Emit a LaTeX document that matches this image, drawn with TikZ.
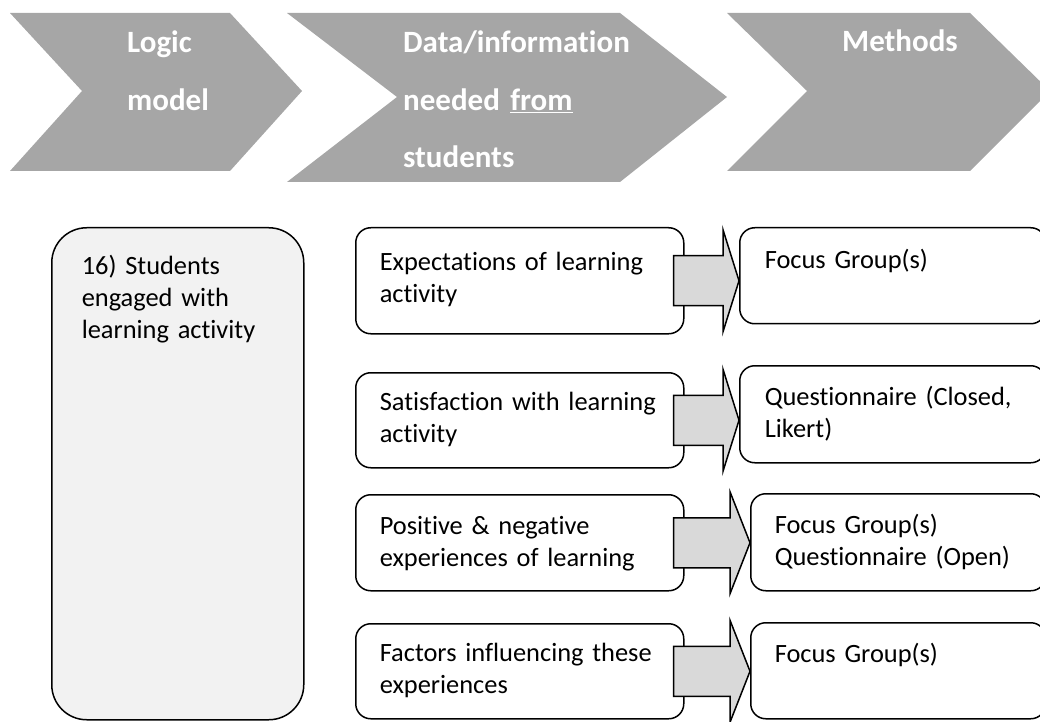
\documentclass[tikz,border=0pt]{standalone}
\usepackage{fontspec}
\setmainfont{Carlito}[Ligatures={NoCommon,NoContextual}]
\usepackage{tikz}
\usetikzlibrary{calc}
\definecolor{ChevronColor}{RGB}{166,166,166}
\definecolor{ArrowColor}{RGB}{217,217,217}
\definecolor{GoalColor}{RGB}{242,242,242}
\newcommand{\bodyfont}{\fontsize{26.4}{32}\selectfont}
\newcommand{\headfont}{\fontsize{31}{57.5}\selectfont\bfseries}
\tikzstyle{chevron} = [fill=ChevronColor]
\tikzstyle{heading} = [anchor=base west, inner sep=0pt, text=white, font=\headfont, align=left, text width=300pt]
\tikzstyle{box} = [draw, line width=1.5pt, fill=white, rounded corners=15pt, anchor=north west, inner ysep=0pt, inner xsep=24pt, align=left, font=\bodyfont]
\tikzstyle{blockarrow} = [draw, line width=1.5pt, fill=ArrowColor, line join=miter]
\newcommand{\blockarrow}[3]{%
  \draw[blockarrow] ($(#1.east)+(-11,25)$) -- ($(#2.west |- #1.east)+(-#3,25)$) -- ($(#2.west |- #1.east)+(-#3,51)$)
    -- (#2.west |- #1.east) -- ($(#2.west |- #1.east)+(-#3,-51)$) -- ($(#2.west |- #1.east)+(-#3,-25)$)
    -- ($(#1.east)+(-11,-25)$) -- cycle;
}
\begin{document}
\begin{tikzpicture}[x=1pt, y=1pt]
    \clip (0,0) rectangle (1040,721);

    % Header chevrons
    \fill[chevron] (10,708) -- (230,708) -- (302,630) -- (230,550) -- (10,550) -- (82,630) -- cycle;
    \fill[chevron] (287,708) -- (620,708) -- (727,624) -- (620,539) -- (287,539) -- (397,624) -- cycle;
    \fill[chevron] (727,708) -- (970,708) -- (1050,630) -- (970,550) -- (727,550) -- (807,630) -- cycle;

    \node[heading] (logic) at (127,668) {Logic\\model};
    \node[heading] (data) at (403,668) {Data/information\\needed \underline{from}\\students};
    \node[heading] (methods) at (842,669) {Methods};

    % Logic model box
    \node[box, fill=GoalColor, rounded corners=35pt, inner xsep=30pt, text width=192pt, text height=47pt, text depth=445pt] (goal) at (51,494) {16) Students\\engaged with\\learning activity};

    % Data needed
    \node[box, text width=280pt, text height=43pt, text depth=63pt] (expect) at (355,494) {Expectations of learning\\activity};
    \node[box, text width=280pt, text height=38pt, text depth=57pt] (satisf) at (355,349) {Satisfaction with learning\\activity};
    \node[box, text width=280pt, text height=40pt, text depth=56pt] (posneg) at (355,227) {Positive \& negative\\experiences of learning};
    \node[box, text width=280pt, text height=38pt, text depth=57pt] (factors) at (355,98) {Factors influencing these\\experiences};

    % Methods
    \node[box, inner xsep=25pt, text width=256pt, text height=41pt, text depth=55pt] (focus) at (739,494) {Focus Group(s)};
    \node[box, inner xsep=25pt, text width=256pt, text height=40pt, text depth=57pt] (closed) at (739,356) {Questionnaire (Closed,\\Likert)};
    \node[box, text width=247pt, text height=40pt, text depth=57pt] (open) at (750,228) {Focus Group(s)\\Questionnaire (Open)};
    \node[box, text width=247pt, text height=40pt, text depth=56pt] (focusb) at (750,99) {Focus Group(s)};

    % Block arrows
    \blockarrow{expect}{focus}{16}
    \blockarrow{satisf}{closed}{16}
    \blockarrow{posneg}{open}{20}
    \blockarrow{factors}{focusb}{20}
\end{tikzpicture}
\end{document}
